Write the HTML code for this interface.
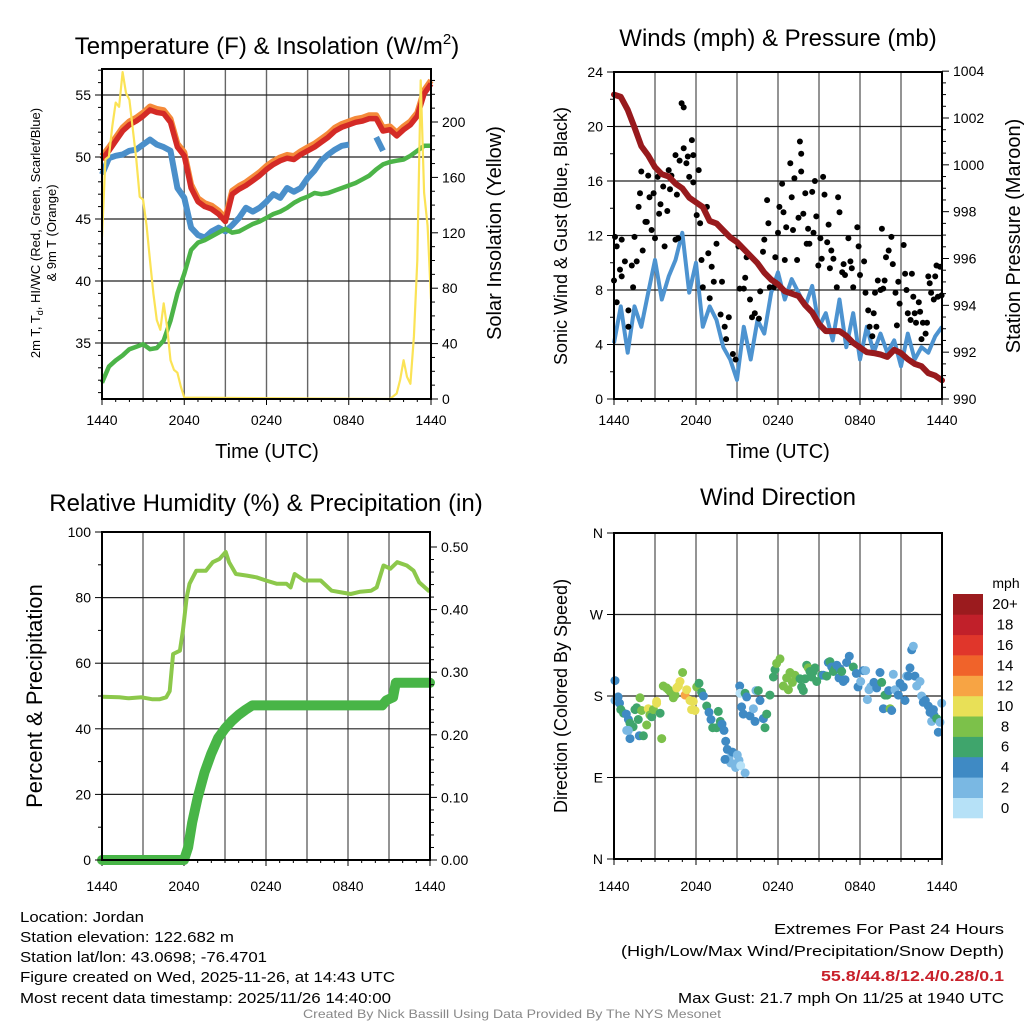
<!DOCTYPE html>
<html><head><meta charset="utf-8"><title>Jordan Mesonet Meteogram</title>
<style>
html,body{margin:0;padding:0;background:#fff;}
svg{display:block;font-family:"Liberation Sans",Arial,sans-serif;}
</style></head>
<body>
<svg id="chart" width="1024" height="1024" viewBox="0 0 1024 1024" xmlns="http://www.w3.org/2000/svg">
<rect x="0" y="0" width="1024" height="1024" fill="#fff"/>
<g id="p1"></g>
<g id="p2"></g>
<g id="p3"></g>
<g id="p4"></g>
<g id="footer">
<text x="20" y="922" font-size="15" textLength="124" lengthAdjust="spacingAndGlyphs">Location: Jordan</text>
<text x="20" y="942" font-size="15" textLength="214" lengthAdjust="spacingAndGlyphs">Station elevation: 122.682 m</text>
<text x="20" y="962" font-size="15" textLength="247" lengthAdjust="spacingAndGlyphs">Station lat/lon: 43.0698; -76.4701</text>
<text x="20" y="982" font-size="15" textLength="375" lengthAdjust="spacingAndGlyphs">Figure created on Wed, 2025-11-26, at 14:43 UTC</text>
<text x="20" y="1003" font-size="15" textLength="371" lengthAdjust="spacingAndGlyphs">Most recent data timestamp: 2025/11/26 14:40:00</text>
<text x="774" y="934" font-size="15" textLength="230" lengthAdjust="spacingAndGlyphs">Extremes For Past 24 Hours</text>
<text x="621" y="956" font-size="15" textLength="383" lengthAdjust="spacingAndGlyphs">(High/Low/Max Wind/Precipitation/Snow Depth)</text>
<text x="821" y="981" font-size="15" font-weight="bold" fill="#c8202a" textLength="183" lengthAdjust="spacingAndGlyphs">55.8/44.8/12.4/0.28/0.1</text>
<text x="678" y="1003" font-size="15" textLength="326" lengthAdjust="spacingAndGlyphs">Max Gust: 21.7 mph On 11/25 at 1940 UTC</text>
<text x="303" y="1018" font-size="12" fill="#888" textLength="418" lengthAdjust="spacingAndGlyphs">Created By Nick Bassill Using Data Provided By The NYS Mesonet</text>
</g>
</svg>
<script>
// ---------- data ----------
const xTickLabels = ["1440","2040","0240","0840","1440"];
// Panel 1 (half-hourly, hours since 1440 UTC)
const tempT   = [49.8,50.5,51.3,52.1,52.6,52.9,53.3,53.8,53.6,53.5,52.8,50.8,50.1,47.5,46.4,46.0,45.8,45.4,44.8,47.0,47.4,47.7,48.1,48.5,49.0,49.4,49.7,49.9,49.8,50.2,50.5,50.8,51.2,51.6,52.1,52.4,52.6,52.8,52.9,53.1,53.1,52.1,52.2,51.7,52.2,52.6,53.3,55.1,55.9];
const windChill = [48.6,49.9,50.1,50.2,50.5,50.6,51.0,51.4,51.0,50.8,50.5,47.5,46.7,44.3,43.7,43.5,44.0,44.3,44.0,44.5,45.1,45.9,45.6,45.9,46.4,47.0,46.7,47.5,47.2,47.5,48.3,48.9,49.7,50.2,50.6,50.9,51.0,null,null,null,51.6,50.5,null,null,null,null,null,null,null];
const dewpoint = [31.8,33.1,33.6,34.0,34.5,34.7,34.9,34.5,34.6,35.2,36.8,39.0,40.6,42.5,43.1,43.3,43.6,43.9,44.2,43.9,44.0,44.3,44.6,44.8,45.1,45.4,45.6,45.9,46.3,46.6,46.8,47.1,47.0,47.1,47.3,47.5,47.7,47.9,48.2,48.5,49.0,49.4,49.6,49.7,49.8,50.1,50.5,50.9,50.9];
const solarHours = [0,0.25,0.5,0.75,1,1.25,1.5,1.75,2,2.5,2.75,3,3.25,3.5,3.75,4,4.25,4.5,4.75,5,5.25,5.5,5.75,6,21,21.5,21.75,22,22.25,22.5,22.75,23,23.25,23.5,23.75,24];
const solarVals  = [117,173,175,197,214,211,236,221,216,173,146,144,125,100,76,57,50,69,52,28,21,19,9,1,0,4,14,28,16,11,45,100,230,149,125,72];
// Panel 2
const windSpeed = [4.1,6.8,3.4,6.8,5.3,7.8,10.2,7.3,9.0,10.2,12.2,7.8,10.0,5.3,6.8,5.8,3.8,2.9,1.4,5.3,2.9,5.8,4.8,7.8,9.3,7.3,8.8,7.8,6.8,8.3,5.3,6.3,4.3,7.3,3.8,6.3,2.9,5.3,3.4,4.8,3.4,4.3,2.4,4.8,2.9,3.8,3.4,4.6,5.3];
const pressure = [1003.0,1002.9,1002.35,1001.6,1000.8,1000.4,999.9,999.6,999.5,999.2,999.0,998.6,998.4,998.2,997.6,997.5,997.2,996.9,996.7,996.4,996.1,995.8,995.4,995.1,994.9,994.6,994.5,994.4,994.0,993.7,993.2,992.9,992.9,992.9,992.7,992.4,992.2,992.0,991.96,991.9,991.8,992.1,991.96,991.7,991.5,991.4,991.1,991.0,990.8];
const gustHours = [0,0.07,0.2,0.2,0.56,0.44,0.56,0.8,1.05,1.05,1.3,1.4,1.5,1.66,1.8,1.9,2.0,2.1,2.3,2.4,2.5,2.6,2.75,2.9,3.0,3.2,3.3,3.4,3.6,3.7,3.9,4.0,4.1,4.2,4.5,4.5,4.6,4.7,4.8,4.95,5.1,5.1,5.3,5.4,5.5,5.7,5.8,5.8,6.05,6.2,6.3,6.4,6.5,6.8,6.9,7.0,7.15,7.3,7.5,7.8,7.9,8.1,8.2,8.4,8.7,8.9,9.1,9.2,9.5,9.6,9.7,9.95,10.1,10.3,10.6,10.7,10.9,11.0,11.2,11.3,11.4,11.7,11.8,12.0,12.1,12.3,12.4,12.5,12.6,12.9,13.0,13.1,13.2,13.4,13.5,13.6,13.7,13.7,13.85,14.0,14.1,14.2,14.3,14.5,14.6,14.7,14.8,14.95,15.1,15.2,15.3,15.4,15.6,15.7,15.8,15.9,16.05,16.3,16.4,16.5,16.7,16.8,16.9,17.15,17.3,17.4,17.5,17.8,17.9,18.0,18.3,18.4,18.6,18.7,18.9,19.0,19.1,19.2,19.3,19.5,19.6,19.7,19.8,19.9,20.1,20.3,20.4,20.6,20.7,20.8,20.9,21.2,21.3,21.4,21.5,21.7,21.8,21.9,22.0,22.1,22.3,22.4,22.5,22.6,22.8,22.9,23.0,23.1,23.2,23.4,23.5,23.6,23.7,23.85,23.97];
const gustVals  = [8.7,11.9,11.2,7.1,11.7,9.5,9.0,10.1,6.5,5.3,9.8,8.2,11.9,10.1,14.1,15.1,16.7,10.9,13.0,13.0,16.4,14.8,12.4,15.1,11.8,16.3,13.6,14.3,15.6,11.2,13.8,16.8,15.4,16.4,17.9,11.7,15.0,11.8,17.5,21.7,21.4,18.4,17.3,17.8,16.3,19.0,17.9,15.9,13.5,16.8,12.9,10.2,8.2,14.1,10.7,7.4,9.7,8.6,11.4,6.2,8.6,5.3,4.4,6.0,3.3,2.9,11.2,8.1,8.1,8.9,10.4,7.3,6.0,6.3,5.9,7.9,10.8,11.7,14.6,12.9,8.2,8.2,10.4,12.2,14.1,15.8,13.7,10.2,12.6,17.3,14.8,12.4,16.2,10.2,13.3,18.9,18.0,16.7,13.6,15.1,11.4,12.5,11.4,15.2,12.2,16.0,13.4,9.8,11.8,10.3,16.3,15.0,11.5,12.8,9.6,10.9,10.3,8.2,14.8,13.7,9.3,9.9,9.1,11.8,10.1,9.6,8.2,12.6,11.2,9.1,10.1,7.8,6.5,5.3,4.6,6.3,7.8,5.3,8.7,8.0,12.5,8.1,8.7,10.4,10.9,11.9,9.9,7.8,5.4,8.6,7.0,11.3,9.2,8.0,6.3,5.8,9.2,7.5,6.3,5.6,7.1,6.4,4.4,5.6,4.8,5.6,9.0,8.5,7.8,7.3,9.0,9.8,7.5,9.7,7.6];
// Panel 3
const rhHours = [0,1.27,1.97,2.9,3.7,4.2,4.7,4.95,5.2,5.7,5.92,6.2,6.4,6.9,7.6,8.1,8.6,9.05,9.3,9.8,10.6,11.3,12.0,12.8,13.5,13.8,14.1,14.8,16,16.8,17.5,18.2,18.9,19.7,20.1,20.6,21.1,21.6,22.3,22.8,23.2,23.9,24];
const rhVals  = [49.8,49.6,49.3,49.6,49.0,49.0,49.6,51.5,62.8,63.8,69.9,80.1,84.2,88.2,88.2,90.8,91.8,93.9,90.8,87.2,86.7,86.2,85.2,84.2,84.2,83.1,87.2,85.2,85.2,82.1,81.6,81.1,81.8,82.1,83.1,89.8,88.8,90.8,89.8,88.2,84.7,82.1,82.5];
const precipHours = [0,6,6.3,6.6,7,7.5,8,8.5,9,9.5,10,10.5,11,20.5,20.8,21.3,21.5,24];
const precipVals  = [0,0,0.02,0.06,0.10,0.14,0.17,0.195,0.21,0.222,0.232,0.24,0.247,0.247,0.255,0.26,0.283,0.283];
// Panel 4 (direction in degrees, speed in mph)
const dirHours = [0.07,0.07,0.3,0.4,0.5,0.7,0.9,1.05,1.17,1.4,1.54,1.66,2.02,1.9,0.93,1.17,1.05,1.78,1.85,2.15,2.39,2.51,2.63,2.76,2.88,3.12,3.12,3.37,3.49,3.61,3.85,3.98,4.1,4.46,4.34,4.59,4.71,4.83,5.02,5.2,5.32,5.56,5.8,5.68,5.93,6.05,6.22,6.41,6.54,6.78,6.95,7.1,7.22,7.51,7.63,7.78,7.9,8.05,8.17,8.29,8.41,8.54,8.66,8.78,8.9,9.02,9.15,9.27,9.59,8.12,9.2,9.22,9.34,9.46,9.59,9.71,9.95,10.2,10.32,10.39,10.56,10.68,10.93,11.05,11.17,11.41,11.66,11.78,11.9,12.15,12.39,12.63,12.76,12.88,13.05,13.24,13.61,13.73,13.85,13.98,14.1,14.22,14.34,14.46,14.59,14.71,14.83,15.2,15.32,15.56,15.68,15.8,15.93,16.05,16.17,16.3,16.46,16.54,16.66,16.78,16.9,17.02,17.22,17.51,17.73,17.85,18.05,18.24,18.41,18.54,18.66,18.78,19.02,19.22,19.46,19.59,19.71,19.83,19.98,20.1,20.2,20.32,20.44,20.56,20.8,20.93,21.17,21.29,21.41,21.54,21.66,21.78,21.9,22.02,22.15,22.39,22.51,22.63,22.78,23.0,23.12,23.24,23.37,23.41,23.61,23.73,23.85,23.98];
const dirVals  = [197,175,179,172,165,161,160,154,150,146,165,167,164,178,142,133,142,154,136,136,148,166,159,157,165,174,172,161,133,191,189,187,185,181,178,189,191,196,206,181,187,175,174,165,164,190,194,184,180,169,162,154,145,145,163,152,149,142,130,121,111,106,118,105,101,115,109,103,95,110,191,183,168,160,183,179,158,166,152,186,186,175,155,145,160,181,201,209,216,221,191,200,187,206,195,203,199,190,186,199,214,211,207,201,207,211,196,203,203,202,217,218,212,207,210,214,200,210,207,196,198,217,224,212,205,190,196,208,208,176,187,190,195,189,206,195,166,181,181,186,166,164,204,187,181,194,190,175,202,202,211,231,235,202,191,196,180,173,175,169,162,152,165,159,155,140,151,172,156,147,152,167,143,175,184,175,185];
const dirSpeed = [4,2,4,4,6,6,4,4,6,6,6,6,8,8,2,4,2,6,4,6,8,10,8,6,8,10,10,6,8,8,8,8,8,8,8,10,10,10,8,12,10,10,10,10,10,8,6,6,4,6,4,4,6,6,6,6,4,4,4,4,2,2,4,2,2,2,2,0,2,4,4,0,4,4,6,4,4,2,4,2,6,4,4,6,6,6,6,6,8,8,8,8,8,8,8,8,6,6,6,6,6,8,6,6,6,6,6,6,4,6,4,6,4,6,6,4,4,4,6,4,4,4,4,6,4,4,2,4,2,2,2,2,4,4,4,6,4,6,6,4,8,4,2,2,4,4,4,4,2,4,4,4,2,4,2,2,2,4,4,4,4,2,4,4,6,4,2,2,2,4,4,4,6,4,6,4,4,4];
const dirTickLabels = ["N","E","S","W","N"];
const cbarLabels = ["0","2","4","6","8","10","12","14","16","18","20+"];
const cbarColors = ["#b6e1f7","#7ab8e3","#3f8ac4","#3fa56c","#7cc14a","#e8e057","#f7a444","#f0632a","#e0362b","#c1202a","#9b1b1e"];

// ---------- helpers ----------
const NS="http://www.w3.org/2000/svg";
function mk(parent,tag,attrs,text){const e=document.createElementNS(NS,tag);for(const k in attrs)e.setAttribute(k,attrs[k]);if(text!==undefined)e.textContent=text;parent.appendChild(e);return e;}
function linScale(d0,d1,r0,r1){return v=>r0+(v-d0)*(r1-r0)/(d1-d0);}
function pathFrom(xs,ys,sx,sy){let d="",pen=false;for(let i=0;i<xs.length;i++){if(ys[i]===null||ys[i]===undefined){pen=false;continue;}d+=(pen?"L":"M")+sx(xs[i]).toFixed(1)+" "+sy(ys[i]).toFixed(1)+" ";pen=true;}return d;}
const halfHours=[];for(let i=0;i<=48;i++)halfHours.push(i/2);

function frame(g,X0,X1,Y0,Y1,xLabY){
  // vertical grid every 3 h
  for(let h=3;h<24;h+=3){const x=X0+h*(X1-X0)/24;
    const l=mk(g,"line",{x1:x,y1:Y0,x2:x,y2:Y1,stroke:"#666","stroke-width":1.4});
    
    }
  for(let h=0;h<=24;h+=0.5){const x=X0+h*(X1-X0)/24;const len=(h%6===0)?6:(h%1===0?3:0);if(!len)continue;
    mk(g,"line",{x1:x,y1:Y1,x2:x,y2:Y1+len,stroke:"#000","stroke-width":1});}
  xTickLabels.forEach((s,i)=>{const x=X0+i*6*(X1-X0)/24;
    const t=mk(g,"text",{x:x,y:xLabY,"font-size":14,"text-anchor":"middle"},s);
    
    });
}
function hgrid(g,X0,X1,y){mk(g,"line",{x1:X0,y1:y,x2:X1,y2:y,stroke:"#222","stroke-width":1.2});}
function box(g,X0,X1,Y0,Y1){const r=mk(g,"rect",{x:X0,y:Y0,width:X1-X0,height:Y1-Y0,fill:"none",stroke:"#000","stroke-width":2});
  
  }
function yTicks(g,x,side,vals,sy,labels,minor){vals.forEach((v,i)=>{const y=sy(v);
    mk(g,"line",{x1:x,y1:y,x2:x+side*7,y2:y,stroke:"#000","stroke-width":1});
    const t=mk(g,"text",{x:x+side*11,y:y+5,"font-size":14,"text-anchor":side<0?"end":"start"},labels[i]);
    
    });
  (minor||[]).forEach(v=>{const y=sy(v);mk(g,"line",{x1:x,y1:y,x2:x+side*4,y2:y,stroke:"#000","stroke-width":1});});}
function rotText(g,x,y,s,size,name){const t=mk(g,"text",{x:0,y:0,"font-size":size,"text-anchor":"middle",transform:`translate(${x},${y}) rotate(-90)`},s);
  
  return t;}
function title(g,x,y,s,name,size){const t=mk(g,"text",{x:x,y:y,"font-size":size||24,"text-anchor":"middle"},s);
  
  return t;}

// ---------- Panel 1 ----------
(function(){const g=document.getElementById('p1');const X0=102,X1=431,Y0=69,Y1=399;
  const sx=linScale(0,24,X0,X1), sy=linScale(50,55,157,95), sr=linScale(0,200,399,122);
  frame(g,X0,X1,Y0,Y1,425);
  [35,40,45,50,55].forEach(v=>hgrid(g,X0,X1,sy(v)));
  const t9=tempT.map(v=>v+0.15);
  const pO=mk(g,"path",{d:pathFrom(halfHours,t9,sx,v=>sy(v)-1.5),fill:"none",stroke:"#f58a3a","stroke-width":6,"stroke-linejoin":"round"});
  
  
  const pB=mk(g,"path",{d:pathFrom(halfHours,windChill,sx,sy),fill:"none",stroke:"#4a8fca","stroke-width":6,"stroke-linejoin":"round"});
  
  
  const pR=mk(g,"path",{d:pathFrom(halfHours,tempT,sx,sy),fill:"none",stroke:"#d42a26","stroke-width":5.5,"stroke-linejoin":"round"});
  
  
  const pG=mk(g,"path",{d:pathFrom(halfHours,dewpoint,sx,sy),fill:"none",stroke:"#4cb448","stroke-width":4.5,"stroke-linejoin":"round"});
  
  
  const pY=mk(g,"path",{d:pathFrom(solarHours,solarVals,sx,sr),fill:"none",stroke:"#fbe356","stroke-width":2.2,"stroke-linejoin":"round"});
  
  
  box(g,X0,X1,Y0,Y1);
  const mn=[];for(let v=31;v<=57;v++)if(v%5)mn.push(v);
  yTicks(g,X0,-1,[35,40,45,50,55],sy,["35","40","45","50","55"],mn);
  const mr=[];for(let v=10;v<=230;v+=10)if(v%40)mr.push(v);
  yTicks(g,X1,1,[0,40,80,120,160,200],sr,["0","40","80","120","160","200"],mr);
  const tt=title(g,267,54,"Temperature (F) & Insolation (W/m","chart-title-temperature");
  mk(tt,"tspan",{dy:-10,"font-size":15},"2");mk(tt,"tspan",{dy:10},")");
  const l1=rotText(g,40,233,"",13,"y-axis-title-temperature");
  l1.appendChild(document.createTextNode("2m T, T"));mk(l1,"tspan",{dy:3,"font-size":9},"d");mk(l1,"tspan",{dy:-3},", HI/WC (Red, Green, Scarlet/Blue)");
  rotText(g,56,233,"& 9m T (Orange)",13,"y-axis-title-temperature-line2");
  rotText(g,501,233,"Solar Insolation (Yellow)",20,"y-axis-title-solar");
  title(g,267,458,"Time (UTC)","x-axis-title-temperature",20);
})();

// ---------- Panel 2 ----------
(function(){const g=document.getElementById('p2');const X0=614,X1=942,Y0=72,Y1=399;
  const sx=linScale(0,24,X0,X1), sy=linScale(0,24,399,72), sp=linScale(990,1002,399,118);
  frame(g,X0,X1,Y0,Y1,425);
  [4,8,12,16,20].forEach(v=>hgrid(g,X0,X1,sy(v)));
  const pw=mk(g,"path",{d:pathFrom(halfHours,windSpeed,sx,sy),fill:"none",stroke:"#4d93d0","stroke-width":4,"stroke-linejoin":"round"});
  
  
  gustHours.forEach((h,i)=>{const c=mk(g,"circle",{cx:sx(h).toFixed(1),cy:sy(gustVals[i]).toFixed(1),r:3,fill:"#000"});
    
    });
  const pp=mk(g,"path",{d:pathFrom(halfHours,pressure,sx,sp),fill:"none",stroke:"#981a1d","stroke-width":6,"stroke-linejoin":"round","stroke-linecap":"round"});
  
  
  box(g,X0,X1,Y0,Y1);
  const mn=[];for(let v=2;v<24;v+=4)mn.push(v);
  yTicks(g,X0,-1,[0,4,8,12,16,20,24],sy,["0","4","8","12","16","20","24"],mn);
  const mr=[];for(let v=990.5;v<1004;v+=0.5)if(v%2)mr.push(v);
  yTicks(g,X1,1,[990,992,994,996,998,1000,1002,1004],sp,["990","992","994","996","998","1000","1002","1004"],mr);
  title(g,778,46,"Winds (mph) & Pressure (mb)","chart-title-winds");
  rotText(g,567,236,"Sonic Wind & Gust (Blue, Black)",18,"y-axis-title-wind");
  rotText(g,1020,236,"Station Pressure (Maroon)",20,"y-axis-title-pressure");
  title(g,778,458,"Time (UTC)","x-axis-title-winds",20);
})();

// ---------- Panel 3 ----------
(function(){const g=document.getElementById('p3');const X0=102,X1=430,Y0=532,Y1=860;
  const sx=linScale(0,24,X0,X1), sy=linScale(0,100,860,532), sr=linScale(0,0.5,860,547);
  frame(g,X0,X1,Y0,Y1,891);
  [20,40,60,80].forEach(v=>hgrid(g,X0,X1,sy(v)));
  const pr=mk(g,"path",{d:pathFrom(rhHours,rhVals,sx,sy),fill:"none",stroke:"#8cc84b","stroke-width":4,"stroke-linejoin":"round"});
  
  
  const pc=mk(g,"path",{d:pathFrom(precipHours,precipVals,sx,sr),fill:"none",stroke:"#48b547","stroke-width":10,"stroke-linejoin":"round","stroke-linecap":"round"});
  
  
  box(g,X0,X1,Y0,Y1);
  yTicks(g,X0,-1,[0,20,40,60,80,100],sy,["0","20","40","60","80","100"],[10,30,50,70,90]);
  const mr=[];for(let v=0.02;v<0.52;v+=0.02){const r=Math.round(v*100)/100;if(Math.round(r*100)%10)mr.push(r);}
  yTicks(g,X1,1,[0,0.1,0.2,0.3,0.4,0.5],sr,["0.00","0.10","0.20","0.30","0.40","0.50"],mr);
  title(g,266,511,"Relative Humidity (%) & Precipitation (in)","chart-title-humidity");
  rotText(g,42,696,"Percent & Precipitation",22,"y-axis-title-humidity");
})();

// ---------- Panel 4 ----------
(function(){const g=document.getElementById('p4');const X0=614,X1=942,Y0=533,Y1=859;
  const sx=linScale(0,24,X0,X1), sy=linScale(0,360,859,533);
  frame(g,X0,X1,Y0,Y1,891);
  [90,180,270].forEach(v=>hgrid(g,X0,X1,sy(v)));
  dirHours.forEach((h,i)=>{const ci=Math.min(10,Math.floor(dirSpeed[i]/2));
    const c=mk(g,"circle",{cx:sx(h).toFixed(1),cy:sy(dirVals[i]).toFixed(1),r:4.5,fill:cbarColors[ci]});
    
    });
  box(g,X0,X1,Y0,Y1);
  yTicks(g,X0,-1,[0,90,180,270,360],sy,dirTickLabels,[]);
  title(g,778,505,"Wind Direction","chart-title-direction");
  rotText(g,567,696,"Direction (Colored By Speed)",18,"y-axis-title-direction");
  const cb=mk(g,"g",{});
  
  
  const bh=224/11;
  cbarColors.forEach((col,i)=>{const y=818-(i+1)*bh;
    const r=mk(cb,"rect",{x:953,y:y.toFixed(1),width:30,height:(bh+0.3).toFixed(1),fill:col});
    
    
    const t=mk(cb,"text",{x:1005,y:(y+bh/2+5).toFixed(1),"font-size":15,"text-anchor":"middle"},cbarLabels[i]);
    
    });
  const u=mk(cb,"text",{x:1006,y:588,"font-size":14,"text-anchor":"middle"},"mph");
  
  
})();
</script>
</body></html>
